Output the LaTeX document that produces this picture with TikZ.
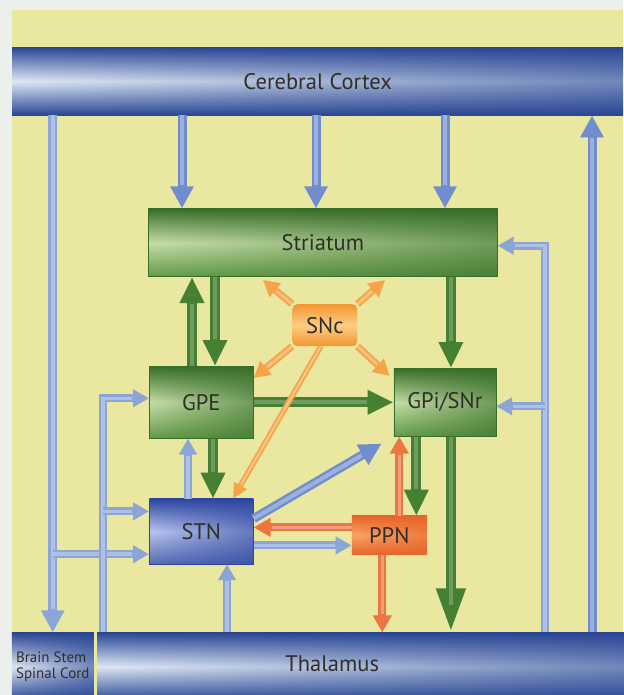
\documentclass[tikz,border=0pt]{standalone}
\usepackage{fontspec}
\setmainfont{PT Sans}
\usetikzlibrary{arrows.meta, positioning, calc, fadings}
\definecolor{bgyellow}{RGB}{233,231,160}
\definecolor{pagewhite}{RGB}{236,240,236}
\definecolor{ctxdark}{RGB}{42,70,148}
\definecolor{ctxlight}{RGB}{222,233,244}
\definecolor{grnD}{RGB}{55,110,40}
\definecolor{grnM}{RGB}{100,155,75}
\definecolor{grnL}{RGB}{198,222,168}
\definecolor{stnD}{RGB}{45,70,160}
\definecolor{stnL}{RGB}{185,198,238}
\definecolor{sncD}{RGB}{242,150,50}
\definecolor{sncL}{RGB}{252,205,130}
\definecolor{ppnD}{RGB}{232,100,40}
\definecolor{ppnL}{RGB}{248,165,105}
\definecolor{arrblue}{RGB}{112,142,205}
\definecolor{busblue}{RGB}{140,165,215}
\definecolor{arrgreen}{RGB}{70,128,50}
\definecolor{arrsnc}{RGB}{245,165,72}
\definecolor{arrppn}{RGB}{236,118,66}
\definecolor{txtgray}{RGB}{50,45,40}
\tikzfading[name=fadedark, left color=transparent!100, right color=transparent!40]

\begin{document}
\begin{tikzpicture}[x=1pt, y=-1pt,
  lbl/.style={text=txtgray, font=\fontsize{22.5}{24}\selectfont},
  barbox/.style={rectangle, inner sep=0pt, minimum height=68pt,
    top color=ctxdark, bottom color=ctxdark, middle color=ctxlight,
    postaction={fill=ctxdark, path fading=fadedark}, lbl},
  grnbox/.style={rectangle, inner sep=0pt, draw=grnD, line width=.6pt,
    top color=grnD, bottom color=grnM, middle color=grnL,
    postaction={fill=grnD, path fading=fadedark}, lbl},
  stnbox/.style={rectangle, inner sep=0pt, draw=stnD, line width=.6pt,
    top color=stnD, bottom color=stnD!80, middle color=stnL,
    postaction={fill=stnD, path fading=fadedark}, lbl},
  sncbox/.style={rectangle, rounded corners=5pt, inner sep=0pt,
    top color=sncD, bottom color=sncD, middle color=sncL, lbl},
  ppnbox/.style={rectangle, inner sep=0pt,
    top color=ppnD, bottom color=ppnD, middle color=ppnL,
    postaction={fill=ppnD, path fading=fadedark}, lbl},
  arrb/.style={-{Triangle[width=22pt, length=22pt]}, line width=9pt, arrblue,
    postaction={draw=white, draw opacity=.3, line width=4pt, -, shorten >=23pt}},
  arrbs/.style={-{Triangle[width=17pt, length=16pt]}, line width=8pt, busblue,
    postaction={draw=white, draw opacity=.3, line width=3.5pt, -, shorten >=17pt}},
  arrg/.style={-{Triangle[width=23pt, length=26pt]}, line width=10pt, arrgreen,
    postaction={draw=white, draw opacity=.22, line width=4pt, -, shorten >=27pt}},
  arrgl/.style={arrg, -{Triangle[width=27pt, length=44pt]}},
  arrp/.style={-{Triangle[width=18pt, length=17pt]}, line width=8pt, arrppn,
    postaction={draw=white, draw opacity=.3, line width=3pt, -, shorten >=18pt}},
  arrs/.style={-{Triangle[width=17pt, length=16pt]}, line width=7pt, arrsnc,
    postaction={draw=white, draw opacity=.3, line width=3pt, -, shorten >=17pt}},
  arrst/.style={-{Triangle[width=14pt, length=15pt]}, line width=5.5pt, arrsnc,
    postaction={draw=white, draw opacity=.35, line width=2pt, -, shorten >=16pt}},
]
  % page and background
  \fill[pagewhite] (0,0) rectangle (623,695);
  \fill[bgyellow] (12,10) rectangle (623,695);
  \useasboundingbox (0,0) rectangle (623,695);

  % Structures
  \node[barbox, minimum width=611pt, anchor=north west] (cortex) at (12,47) {Cerebral Cortex};
  \node[grnbox, minimum width=349pt, minimum height=68pt,
    below right=93pt and 136pt of cortex.south west] (striatum) {Striatum};
  \node[grnbox, minimum width=104pt, minimum height=72pt,
    below right=89pt and 1pt of striatum.south west] (gpe) {GPE};
  \node[stnbox, minimum width=104pt, minimum height=65pt,
    below right=60pt and 0pt of gpe.south west] (stn) {STN};
  \node[grnbox, minimum width=102pt, minimum height=68pt, right=140pt of gpe] (gpi) {GPi/SNr};
  \node[sncbox, minimum width=65pt, minimum height=42pt, below=27pt of striatum, xshift=2pt] (snc) {SNc};
  \node[ppnbox, minimum width=75pt, minimum height=39pt, right=98pt of stn, yshift=-4pt] (ppn) {PPN};
  \node[barbox, minimum width=530pt, below right=517pt and 85pt of cortex.south west,
    label={[lbl, xshift=-30pt, yshift=3pt]center:Thalamus}] (thalamus) {};
  \node[barbox, minimum width=82pt, left=3pt of thalamus.north west, anchor=north east,
    font=\fontsize{15}{16.5}\selectfont, align=left] (brainstem) {Brain Stem\\Spinal Cord};

  % Cortex to striatum
  \foreach \dx [count=\i] in {34,168,297} {
    \coordinate (ctx\i) at ([xshift=\dx pt]striatum.north west);
    \draw[arrb] (ctx\i |- cortex.south) -- (ctx\i);
  }
  % Cortex down to brain stem, branch to STN
  \coordinate (stnlow) at ([yshift=10pt]stn.south west);
  \draw[arrb, busblue] (brainstem.north |- cortex.south) -- (brainstem.north);
  \draw[arrbs] (brainstem.north |- stnlow) -- (stnlow);

  % Thalamus to GPE and STN (left)
  \coordinate (lbus) at ([xshift=6pt]thalamus.north west);
  \coordinate (gpein) at ([yshift=4pt]gpe.west);
  \coordinate (stnhigh) at ([yshift=20pt]stn.west);
  \draw[arrbs] (lbus) |- (gpein);
  \draw[arrbs] (lbus |- stnhigh) -- (stnhigh);

  % Thalamus to striatum and GPi (right), thalamus to cortex
  \coordinate (rbus) at ([xshift=448pt]thalamus.north west);
  \coordinate (strin) at ([yshift=-3pt]striatum.east);
  \coordinate (gpiin) at ([yshift=-4pt]gpi.east);
  \draw[arrbs] (rbus) |- (strin);
  \draw[arrbs] (rbus |- gpiin) -- (gpiin);
  \coordinate (rup) at ([xshift=495pt]thalamus.north west);
  \draw[arrb] (rup) -- (rup |- cortex.south);

  % Thalamus to STN
  \coordinate (stnbot) at ([xshift=78pt]stn.south west);
  \draw[arrbs] (stnbot |- thalamus.north) -- (stnbot);

  % Striatum and GPE
  \coordinate (gpeup) at ([xshift=43pt]gpe.north west);
  \coordinate (gpedn) at ([xshift=66pt]gpe.north west);
  \draw[arrg] (gpeup) -- (gpeup |- striatum.south);
  \draw[arrg] (gpedn |- striatum.south) -- (gpedn);

  % Striatum to GPi, GPi to thalamus
  \coordinate (gpix) at ([xshift=6pt]gpi.north);
  \coordinate (gpio) at ([xshift=6pt]gpi.south);
  \draw[arrg] (gpix |- striatum.south) -- (gpix);
  \draw[arrgl] (gpio) -- (gpio |- thalamus.north);

  % GPE and STN
  \coordinate (stnup) at ([xshift=39pt]stn.north west);
  \coordinate (stndn) at ([xshift=64pt]stn.north west);
  \draw[arrbs] (stnup) -- (stnup |- gpe.south);
  \draw[arrg] (stndn |- gpe.south) -- (stndn);

  % GPE to GPi, STN to GPi
  \draw[arrg] (gpe.east) -- (gpe.east -| gpi.west);
  \coordinate (stndiag) at ([yshift=-20pt]stn.north east);
  \draw[arrb] (stndiag) -- ($(gpi.south west)!14pt!(stndiag)$);

  % PPN links
  \coordinate (ppnhi) at ([yshift=8pt]ppn.west);
  \coordinate (ppnlo) at ([yshift=-10pt]ppn.west);
  \draw[arrp] (ppnhi) -- (ppnhi -| stn.east);
  \draw[arrbs] (ppnlo -| stn.east) -- (ppnlo);
  \coordinate (ppnup) at ([xshift=10pt]ppn.north);
  \coordinate (ppndn) at ([xshift=27pt]ppn.north);
  \draw[arrp] (ppnup) -- (ppnup |- gpi.south);
  \draw[arrg] (ppndn |- gpi.south) -- (ppndn);
  \coordinate (ppnout) at ([xshift=-7pt]ppn.south);
  \draw[arrp] (ppnout) -- (ppnout |- thalamus.north);

  % SNc projections
  \draw[arrs] (snc.north west) -- ([xshift=115pt, yshift=-3pt]striatum.south west);
  \draw[arrs] (snc.north east) -- ([xshift=237pt, yshift=-3pt]striatum.south west);
  \draw[arrs] (snc.south west) -- ([yshift=-12pt]gpe.north east);
  \draw[arrs] (snc.south east) -- ([xshift=-4pt, yshift=-8pt]gpi.north west);
  \draw[arrst] ([xshift=-4pt]snc.south) -- ([xshift=84pt]stn.north west);
\end{tikzpicture}
\end{document}
